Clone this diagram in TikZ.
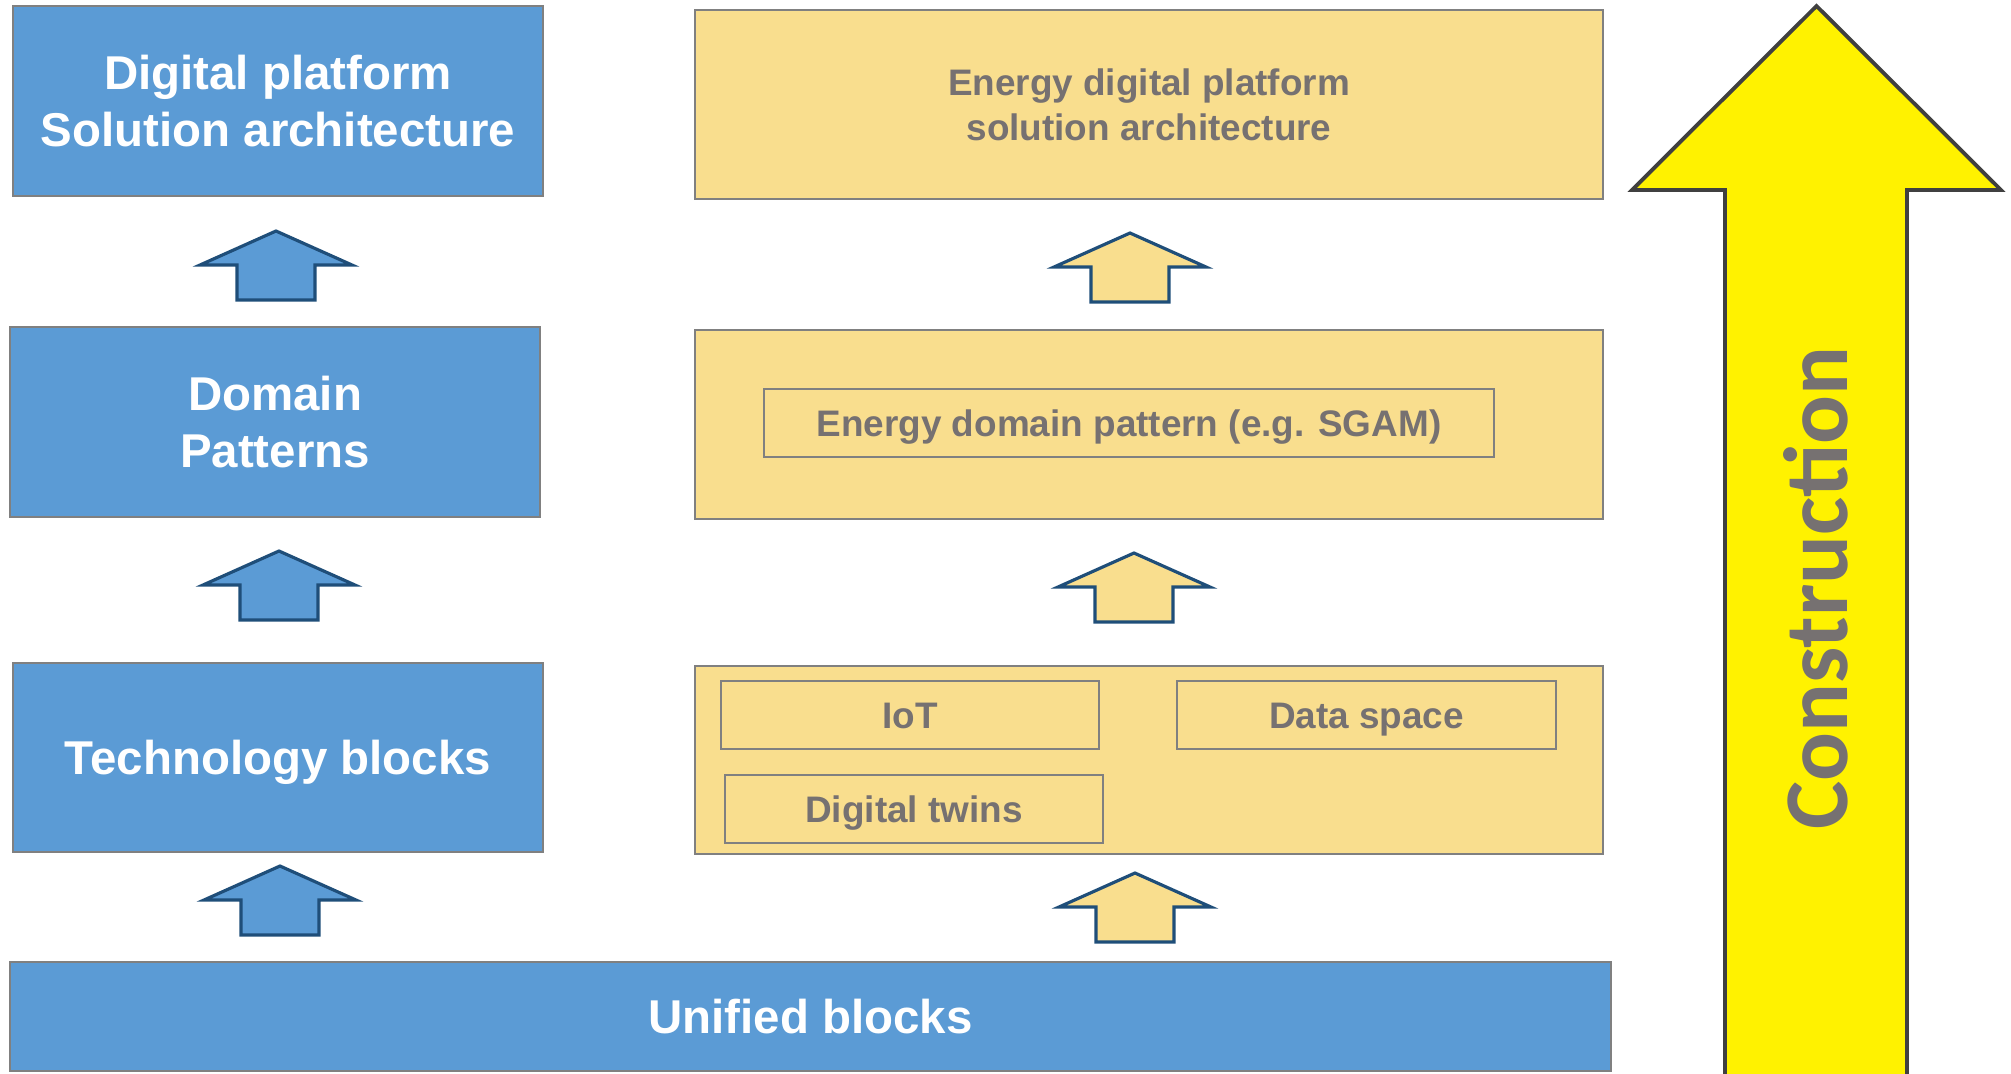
\documentclass[tikz,border=0pt]{standalone}
\usepackage{fontspec}
\setmainfont{Liberation Sans}
\newfontfamily\carlito{Carlito}
\usepackage{tikz}
\usetikzlibrary{calc, shapes, positioning}
\definecolor{boxblue}{RGB}{91,155,213}
\definecolor{boxgold}{RGB}{249,222,142}
\definecolor{txtgray}{RGB}{118,113,113}
\definecolor{edgegray}{RGB}{128,128,128}
\definecolor{arrblue}{RGB}{31,78,121}
\definecolor{bigedge}{RGB}{64,64,64}
\tikzset{
	bluebox/.style={shape=rectangle, draw=edgegray, line width=0.7pt, fill=boxblue, text=white, inner sep=0pt, align=center, font=\fontsize{13.5}{16.3}\selectfont\bfseries},
	goldbox/.style={shape=rectangle, draw=edgegray, line width=0.7pt, fill=boxgold, text=txtgray, inner sep=0pt, align=center, font=\fontsize{10.5}{12.8}\selectfont\bfseries},
	oneline/.style={text height=#1, text depth=0pt},
	pics/uparr/.style={code={
		\draw[line width=0.9pt, draw=arrblue, fill=#1, line join=miter] (0,0) -- (0.76,-0.34) -- (0.39,-0.34) -- (0.39,-0.69) -- (-0.39,-0.69) -- (-0.39,-0.34) -- (-0.76,-0.34) -- cycle;
	}}
}
\begin{document}
\begin{tikzpicture}
\useasboundingbox (0,0) rectangle (20.11,-10.73);
\clip (0,0) rectangle (20.11,-10.73);
% left column
\node[bluebox, minimum width=5.30cm, minimum height=1.90cm] (dp) at (2.78,-1.01) {Digital platform\\Solution architecture};
\node[bluebox, minimum width=5.30cm, minimum height=1.90cm] (dom) at (2.75,-4.22) {Domain\\Patterns};
\node[bluebox, oneline=9.7pt, minimum width=5.30cm, minimum height=1.89cm] (tech) at (2.78,-7.575) {Technology blocks};
\node[bluebox, oneline=9.7pt, minimum width=16.01cm, minimum height=1.09cm] (uni) at (8.105,-10.165) {Unified blocks};
% energy column
\node[goldbox, minimum width=9.08cm, minimum height=1.89cm] (edp) at (11.49,-1.045) {Energy digital platform\\solution architecture};
\node[goldbox, minimum width=9.08cm, minimum height=1.89cm] (edom) at (11.49,-4.245) {};
\node[goldbox, oneline=7.5pt, minimum width=7.30cm, minimum height=0.68cm] (sgam) at (11.29,-4.23) {Energy domain pattern (e.g. SGAM)};
\node[goldbox, minimum width=9.08cm, minimum height=1.88cm] (etech) at (11.49,-7.60) {};
\node[goldbox, oneline=7.5pt, minimum width=3.78cm, minimum height=0.68cm] (iot) at (9.10,-7.15) {IoT};
\node[goldbox, oneline=7.5pt, minimum width=3.79cm, minimum height=0.68cm] (ds) at (13.665,-7.15) {Data space};
\node[goldbox, oneline=7.5pt, minimum width=3.78cm, minimum height=0.68cm] (dt) at (9.14,-8.09) {Digital twins};
% small arrows
\foreach \x/\y/\c in {2.76/2.31/boxblue, 2.79/5.51/boxblue, 2.80/8.66/boxblue, 11.30/2.33/boxgold, 11.34/5.53/boxgold, 11.35/8.73/boxgold}{
	\pic at (\x,-\y) {uparr=\c};
}
% construction arrow
\draw[line width=1.1pt, draw=bigedge, fill=yellow, line join=miter] (18.165,-0.06) -- (20.01,-1.90) -- (19.07,-1.90) -- (19.07,-10.9) -- (17.25,-10.9) -- (17.25,-1.90) -- (16.32,-1.90) -- cycle;
\node[rotate=90, text=txtgray, font={\carlito\fontsize{25.9}{31}\selectfont\bfseries}] (constr) at (18.16,-5.88) {Construction};
\end{tikzpicture}
\end{document}
